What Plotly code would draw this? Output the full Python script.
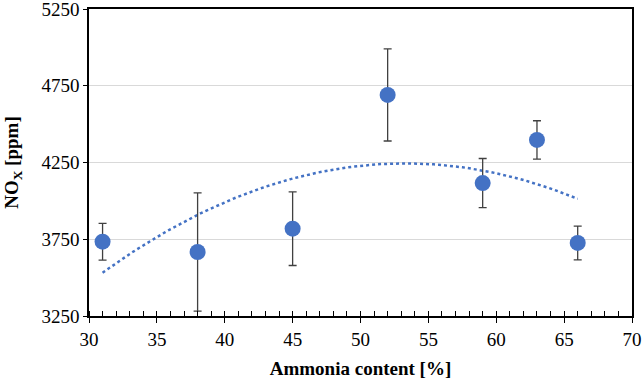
import numpy as np
import plotly.graph_objects as go

ammonia = [31, 38, 45, 52, 59, 63, 66]
nox = [3734, 3667, 3819, 4690, 4116, 4397, 3726]
nox_err = [120, 385, 240, 300, 160, 125, 110]

x_ticks = [30, 35, 40, 45, 50, 55, 60, 65, 70]
y_ticks = [3250, 3750, 4250, 4750, 5250]

# Polynomial (2nd order) trendline fitted to the data
coef = np.polyfit(ammonia, nox, 2)
xt = np.linspace(min(ammonia), max(ammonia), 100)
yt = np.polyval(coef, xt)

blue = "#4472C4"
font = "Liberation Serif"

fig = go.Figure()
fig.add_trace(go.Scatter(
    x=xt, y=yt, mode="lines",
    line=dict(color=blue, width=2.5, dash="dot"),
    hoverinfo="skip", showlegend=False))
fig.add_trace(go.Scatter(
    x=ammonia, y=nox, mode="markers",
    marker=dict(color=blue, size=16),
    error_y=dict(type="data", array=nox_err, visible=True,
                 color="#404040", thickness=1.3, width=4),
    showlegend=False))

fig.update_layout(
    width=644, height=380,
    margin=dict(l=89, r=12, t=9, b=64),
    plot_bgcolor="white", paper_bgcolor="white",
    font=dict(family=font, size=19, color="black"),
    xaxis=dict(
        range=[30, 70], tickvals=x_ticks, automargin=False,
        ticklabeloverflow="allow",
        showgrid=False, zeroline=False,
        showline=True, linecolor="black", linewidth=1.5, mirror=True,
        ticks="outside", ticklen=5, tickcolor="black", tickwidth=1.2,
        minor=dict(dtick=1, ticks="inside", ticklen=5, tickcolor="black", tickwidth=1.2),
        tickfont=dict(family=font, size=19),
        title=dict(text="<b>Ammonia content [%]</b>", font=dict(family=font, size=19), standoff=13),
    ),
    yaxis=dict(
        range=[3250, 5250], tickvals=y_ticks, automargin=False,
        ticklabeloverflow="allow",
        showgrid=True, gridcolor="#D9D9D9", gridwidth=1.2, zeroline=False,
        showline=True, linecolor="black", linewidth=1.5, mirror=True,
        ticks="outside", ticklen=4, tickcolor="black",
        tickfont=dict(family=font, size=19),
        title=dict(text="<b>NO<sub>X</sub> [ppm]</b>", font=dict(family=font, size=19), standoff=18),
    ),
)

fig.write_html("out.html", config={"displayModeBar": False},
               post_script="document.body.style.margin='0';")
